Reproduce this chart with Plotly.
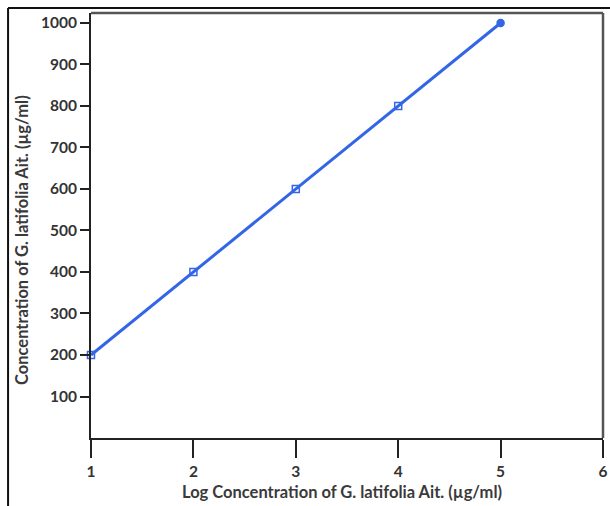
import plotly.graph_objects as go

log_conc = [1, 2, 3, 4, 5]
conc = [200, 400, 600, 800, 1000]
x_ticks = [1, 2, 3, 4, 5, 6]
y_ticks = [100, 200, 300, 400, 500, 600, 700, 800, 900, 1000]
x_title = "Log Concentration of G. latifolia Ait. (µg/ml)"
y_title = "Concentration of G. latifolia Ait. (µg/ml)"

FONT = "Lato"
TICKFONT = dict(family=FONT, size=15.5, color="#333", weight="bold")
TITLEFONT = dict(family=FONT, size=16.5, color="#3a3a3a", weight="bold")

fig = go.Figure()
fig.add_trace(go.Scatter(
    x=log_conc, y=conc, mode="lines+markers",
    line=dict(color="#3366e6", width=3),
    marker=dict(symbol=["square-open", "square-open", "square-open", "square-open", "circle"],
                size=7, color="#3366e6", line=dict(width=1.5, color="#3366e6")),
    cliponaxis=False, showlegend=False, hoverinfo="skip",
))

fig.update_layout(
    width=610, height=506,
    margin=dict(l=91, r=7, t=13, b=68, autoexpand=False),
    paper_bgcolor="white", plot_bgcolor="white",
    font=dict(family=FONT, color="#222", size=13),
    xaxis=dict(
        range=[1, 6], tickvals=x_ticks, ticks="outside", ticklen=18, tickwidth=2,
        tickcolor="#222", showline=True, linecolor="#222", linewidth=2,
        showgrid=False, zeroline=False, automargin=False, ticklabeloverflow="allow",
        tickfont=TICKFONT,
    ),
    yaxis=dict(
        range=[0, 1024], tickvals=y_ticks, ticks="outside", ticklen=9, tickwidth=2,
        tickcolor="#222", showline=True, linecolor="#222", linewidth=2,
        showgrid=False, zeroline=False, automargin=False, ticklabeloverflow="allow",
        tickfont=TICKFONT,
    ),
    annotations=[
        dict(text=x_title, xref="paper", yref="paper", x=(342 - 91) / 512, y=(438 - 492) / 425,
             xanchor="center", yanchor="middle", showarrow=False, font=TITLEFONT),
        dict(text=y_title, xref="paper", yref="paper", x=(22 - 91) / 512, y=(438 - 240) / 425,
             xanchor="center", yanchor="middle", textangle=-90, showarrow=False, font=TITLEFONT),
    ],
)

# plot frame (top and right)
fig.add_shape(type="line", xref="paper", yref="paper", x0=0, x1=1, y0=1, y1=1,
              line=dict(color="#555", width=2.5))
fig.add_shape(type="line", xref="paper", yref="paper", x0=1, x1=1, y0=0, y1=1,
              line=dict(color="#555", width=2.5))
# outer image border (top and left)
fig.add_shape(type="line", xref="paper", yref="paper", x0=-0.162, x1=1.02, y0=1.0118, y1=1.0118,
              line=dict(color="#111", width=2))
fig.add_shape(type="line", xref="paper", yref="paper", x0=-0.162, x1=-0.162, y0=-0.2, y1=1.0118,
              line=dict(color="#111", width=2))

fig.write_html(
    "out.html",
    config={"displayModeBar": False},
    post_script="document.body.style.margin='0';document.body.style.overflow='hidden';",
)
